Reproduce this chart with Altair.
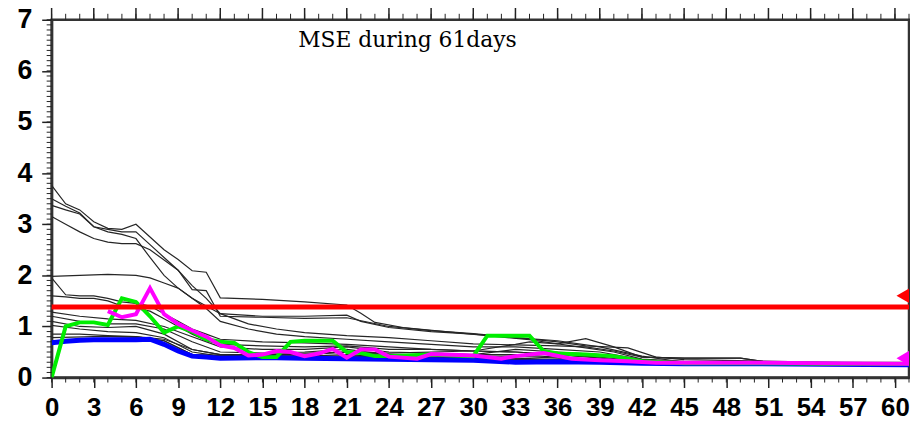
import altair as alt
import pandas as pd

# ---------------- data ----------------
X_MAJOR = list(range(0, 61, 3))
X_MINOR = list(range(0, 62))
Y_MAJOR = [0, 1, 2, 3, 4, 5, 6, 7]
Y_MINOR = [round(i * 0.1, 1) for i in range(71)]

# thin black ensemble members: (days, values)
M01_D = [0, 1, 2, 3, 4, 5, 6, 7, 8, 9, 10, 11, 12, 15, 18, 21, 22, 23, 25, 28, 31, 34, 37, 40, 42, 45, 50, 55, 61]
M01_V = [3.76, 3.40, 3.28, 3.05, 2.92, 2.90, 3.00, 2.75, 2.50, 2.31, 2.09, 2.06, 1.56, 1.53, 1.48, 1.42, 1.26, 1.08, 0.98, 0.90, 0.82, 0.74, 0.62, 0.50, 0.36, 0.32, 0.31, 0.29, 0.27]
M02_D = [0, 1, 2, 3, 4, 5, 6, 7, 8, 9, 10, 11, 12, 15, 18, 21, 24, 27, 30, 33, 36, 39, 42, 45, 50, 55, 61]
M02_V = [3.50, 3.35, 3.22, 2.95, 2.90, 2.85, 2.85, 2.60, 2.35, 2.10, 1.72, 1.70, 1.20, 1.18, 1.16, 1.17, 1.00, 0.92, 0.86, 0.78, 0.72, 0.60, 0.42, 0.30, 0.29, 0.28, 0.27]
M03_D = [0, 1, 2, 3, 4, 5, 6, 7, 8, 9, 10, 11, 12, 14, 16, 18, 21, 24, 27, 30, 33, 36, 39, 42, 45, 61]
M03_V = [3.37, 3.28, 3.20, 2.95, 2.85, 2.80, 2.72, 2.35, 2.00, 1.75, 1.55, 1.35, 1.10, 0.95, 0.85, 0.80, 0.75, 0.70, 0.65, 0.60, 0.60, 0.55, 0.50, 0.35, 0.30, 0.27]
M04_D = [0, 1, 2, 3, 4, 5, 6, 7, 8, 9, 10, 11, 12, 14, 16, 18, 21, 24, 27, 30, 33, 36, 38, 40, 42, 45, 49, 51, 55, 61]
M04_V = [3.15, 3.00, 2.85, 2.72, 2.65, 2.62, 2.62, 2.50, 2.30, 2.10, 1.80, 1.55, 1.25, 1.05, 0.95, 0.88, 0.82, 0.78, 0.72, 0.66, 0.64, 0.62, 0.60, 0.52, 0.40, 0.38, 0.38, 0.30, 0.29, 0.27]
M05_D = [0, 2, 4, 6, 7, 8, 9, 10, 11, 12, 15, 18, 21, 22, 24, 27, 30, 33, 36, 38, 41, 43, 45, 61]
M05_V = [1.98, 2.00, 2.02, 2.00, 1.95, 1.85, 1.75, 1.55, 1.40, 1.25, 1.20, 1.20, 1.22, 1.10, 0.98, 0.90, 0.85, 0.78, 0.70, 0.62, 0.58, 0.40, 0.35, 0.27]
M06_D = [0, 1, 2, 3, 4, 5, 6, 7, 8, 9, 10, 11, 12, 15, 18, 21, 24, 27, 30, 33, 36, 39, 42, 61]
M06_V = [1.95, 1.62, 1.60, 1.60, 1.55, 1.48, 1.45, 1.40, 1.25, 1.10, 0.95, 0.85, 0.75, 0.70, 0.68, 0.65, 0.60, 0.55, 0.52, 0.50, 0.45, 0.38, 0.30, 0.27]
M07_D = [0, 1, 2, 3, 4, 5, 6, 7, 8, 9, 10, 11, 12, 15, 18, 21, 24, 27, 30, 33, 36, 39, 42, 61]
M07_V = [1.60, 1.58, 1.55, 1.55, 1.50, 1.40, 1.35, 1.30, 1.15, 1.00, 0.85, 0.72, 0.65, 0.62, 0.60, 0.62, 0.55, 0.55, 0.52, 0.50, 0.45, 0.40, 0.32, 0.27]
M08_D = [0, 2, 4, 6, 8, 10, 12, 15, 18, 21, 24, 27, 30, 33, 36, 39, 42, 61]
M08_V = [1.28, 1.20, 1.15, 1.12, 1.00, 0.80, 0.60, 0.55, 0.55, 0.60, 0.50, 0.48, 0.45, 0.45, 0.40, 0.35, 0.30, 0.27]
M09_D = [0, 2, 4, 6, 8, 10, 12, 15, 18, 21, 24, 27, 30, 33, 36, 39, 42, 61]
M09_V = [1.20, 1.10, 1.05, 1.05, 0.95, 0.70, 0.50, 0.48, 0.50, 0.55, 0.45, 0.45, 0.42, 0.42, 0.38, 0.32, 0.28, 0.26]
M10_D = [0, 2, 4, 6, 8, 10, 12, 15, 18, 21, 24, 27, 30, 33, 36, 39, 61]
M10_V = [1.10, 1.00, 0.98, 1.00, 0.85, 0.55, 0.45, 0.45, 0.45, 0.50, 0.42, 0.42, 0.40, 0.38, 0.35, 0.30, 0.26]
M11_D = [0, 2, 4, 6, 8, 10, 12, 15, 18, 21, 24, 30, 36, 42, 61]
M11_V = [1.02, 0.95, 0.90, 0.88, 0.78, 0.50, 0.42, 0.42, 0.42, 0.45, 0.40, 0.38, 0.33, 0.28, 0.26]
M12_D = [0, 2, 4, 6, 8, 10, 12, 18, 21, 24, 30, 33, 36, 39, 42, 61]
M12_V = [0.85, 0.85, 0.82, 0.80, 0.72, 0.45, 0.42, 0.45, 0.50, 0.45, 0.45, 0.55, 0.50, 0.45, 0.30, 0.27]
M13_D = [0, 3, 6, 8, 10, 12, 15, 18, 21, 24, 27, 30, 33, 34, 36, 38, 40, 42, 45, 49, 51, 61]
M13_V = [0.78, 0.80, 0.80, 0.75, 0.55, 0.45, 0.45, 0.48, 0.50, 0.48, 0.50, 0.52, 0.65, 0.70, 0.66, 0.76, 0.60, 0.40, 0.38, 0.38, 0.30, 0.27]
M14_D = [0, 6, 8, 10, 15, 21, 30, 40, 61]
M14_V = [0.72, 0.78, 0.72, 0.45, 0.42, 0.42, 0.38, 0.32, 0.26]

BLUE_D = [0, 1, 2, 3, 4, 5, 6, 7, 8, 9, 10, 11, 12, 15, 18, 21, 24, 27, 30, 33, 36, 39, 42, 45, 50, 55, 61]
BLUE_V = [0.68, 0.71, 0.73, 0.74, 0.74, 0.74, 0.74, 0.75, 0.65, 0.52, 0.42, 0.40, 0.38, 0.39, 0.38, 0.37, 0.36, 0.35, 0.34, 0.30, 0.31, 0.30, 0.28, 0.27, 0.27, 0.26, 0.25]

GREEN_D = [0, 1, 2, 3, 4, 5, 6, 7, 8, 9, 10, 11, 12, 13, 14, 15, 16, 17, 18, 19, 20, 21, 22, 23, 24, 27, 30, 31, 32, 33, 34, 35, 36, 38, 40, 42, 45, 50, 55, 61]
GREEN_V = [0.0, 1.00, 1.08, 1.08, 1.03, 1.55, 1.48, 1.20, 0.88, 1.00, 0.90, 0.75, 0.70, 0.68, 0.50, 0.40, 0.40, 0.70, 0.72, 0.72, 0.72, 0.50, 0.48, 0.42, 0.42, 0.45, 0.42, 0.82, 0.82, 0.82, 0.82, 0.52, 0.47, 0.45, 0.42, 0.32, 0.28, 0.28, 0.27, 0.27]

MAGENTA_D = [4, 5, 6, 7, 8, 9, 10, 11, 12, 13, 14, 15, 16, 17, 18, 19, 20, 21, 22, 23, 24, 26, 27, 30, 32, 33, 35, 37, 39, 41, 43, 50, 55, 61]
MAGENTA_V = [1.30, 1.18, 1.24, 1.75, 1.24, 1.05, 0.92, 0.80, 0.63, 0.58, 0.43, 0.45, 0.52, 0.50, 0.42, 0.47, 0.56, 0.39, 0.55, 0.55, 0.41, 0.37, 0.46, 0.43, 0.37, 0.42, 0.48, 0.37, 0.34, 0.32, 0.29, 0.29, 0.28, 0.27]

RED_LEVEL = [1.38]
MARKERS_DAY = [61, 61]
MARKERS_V = [1.60, 0.38]
MARKERS_C = ["red", "magenta"]

TITLE = "MSE during 61days"

# ---------------- tables ----------------
members = [
    (M01_D, M01_V), (M02_D, M02_V), (M03_D, M03_V), (M04_D, M04_V),
    (M05_D, M05_V), (M06_D, M06_V), (M07_D, M07_V), (M08_D, M08_V),
    (M09_D, M09_V), (M10_D, M10_V), (M11_D, M11_V), (M12_D, M12_V),
    (M13_D, M13_V), (M14_D, M14_V),
]
rows = []
for k, (ds, vs) in enumerate(members):
    for d, v in zip(ds, vs):
        rows.append({"day": d, "mse": v, "member": f"m{k:02d}"})
black_df = pd.DataFrame(rows)
blue_df = pd.DataFrame({"day": BLUE_D, "mse": BLUE_V})
green_df = pd.DataFrame({"day": GREEN_D, "mse": GREEN_V})
mag_df = pd.DataFrame({"day": MAGENTA_D, "mse": MAGENTA_V})
red_df = pd.DataFrame({"mse": RED_LEVEL})
mk_df = pd.DataFrame({"day": MARKERS_DAY, "mse": MARKERS_V, "c": MARKERS_C})
xmaj_df = pd.DataFrame({"day": X_MAJOR})
xmin_df = pd.DataFrame({"day": X_MINOR})
ymin_df = pd.DataFrame({"mse": Y_MINOR})

W, H = 865, 361
xs = alt.Scale(domain=[0, 61], nice=False, zero=False)
ys = alt.Scale(domain=[0, 7], nice=False)

AX = dict(grid=False, title=None, domainColor="#333", domainWidth=2.5,
          tickColor="#222", labelColor="black")

x_axis = alt.Axis(orient="bottom", values=X_MAJOR, tickSize=10, tickWidth=1.5,
                  labelFont="Liberation Sans Narrow, Liberation Sans", labelFontSize=26,
                  labelFontWeight="bold", labelPadding=7, labelFlush=False,
                  labelOverlap=False, **AX)
y_axis = alt.Axis(orient="left", values=Y_MAJOR, tickSize=10, tickWidth=1.5,
                  labelFont="Liberation Sans", labelFontSize=27, labelFontWeight="bold",
                  labelPadding=10, labelFlush=False, labelOverlap=False, **AX)


def X(field="day:Q"):
    return alt.X(field, scale=xs, axis=x_axis)


def Y(field="mse:Q"):
    return alt.Y(field, scale=ys, axis=y_axis)


black = alt.Chart(black_df).mark_line(color="#262626", strokeWidth=1.2, clip=True).encode(
    x=X(), y=Y(), detail="member:N",
)
blue = alt.Chart(blue_df).mark_line(color="#0000ff", strokeWidth=5, clip=True).encode(x=X(), y=Y())
green = alt.Chart(green_df).mark_line(color="#00ee00", strokeWidth=4, clip=True).encode(x=X(), y=Y())
magenta = alt.Chart(mag_df).mark_line(color="#ff00ff", strokeWidth=4, clip=True).encode(x=X(), y=Y())
red = alt.Chart(red_df).mark_rule(color="#ff0000", strokeWidth=5).encode(y=Y())
markers = alt.Chart(mk_df).mark_point(shape="triangle-left", size=850, filled=True,
                                      opacity=1, clip=True).encode(
    x=X(), y=Y(), color=alt.Color("c:N", scale=None, legend=None),
)

# extra tick marks (top axis major/minor, bottom minor, left minor)
top_major = alt.Chart(xmaj_df).mark_rule(color="#222", strokeWidth=1.5).encode(
    x=X(), y=alt.value(-12), y2=alt.value(0))
top_minor = alt.Chart(xmin_df).mark_rule(color="#222", strokeWidth=1).encode(
    x=X(), y=alt.value(-6), y2=alt.value(0))
bot_minor = alt.Chart(xmin_df).mark_rule(color="#222", strokeWidth=1).encode(
    x=X(), y=alt.value(H), y2=alt.value(H + 5))
left_minor = alt.Chart(ymin_df).mark_rule(color="#222", strokeWidth=1).encode(
    y=Y(), x=alt.value(-5), x2=alt.value(0))

title = alt.Chart(pd.DataFrame({"t": [TITLE]})).mark_text(
    font="DejaVu Serif", fontSize=22, align="center", baseline="alphabetic", color="black"
).encode(x=alt.value(359), y=alt.value(27), text="t:N")

chart = alt.layer(
    black, blue, green, magenta, red, markers,
    top_major, top_minor, bot_minor, left_minor, title,
).properties(
    width=W, height=H,
    autosize=alt.AutoSizeParams(type="none"),
    padding={"left": 44, "top": 10, "right": 1, "bottom": 48},
    background="white",
).configure_view(stroke="#333", strokeWidth=2.5)

chart.save("out.html", embed_options={"renderer": "svg", "actions": False})
